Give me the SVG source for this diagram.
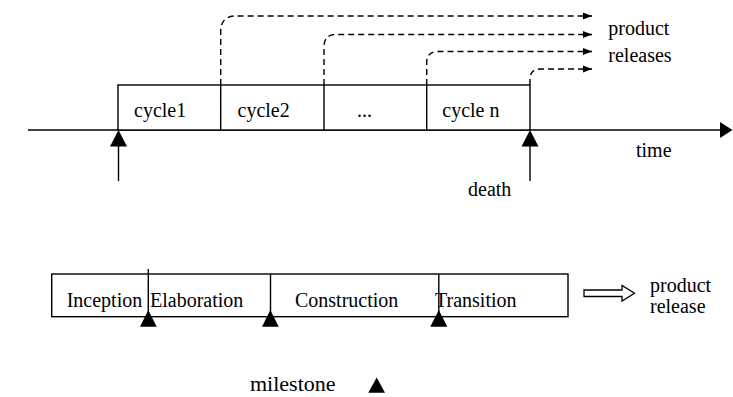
<svg xmlns="http://www.w3.org/2000/svg" width="733" height="397" viewBox="0 0 733 397">
<defs>
<style>
text{font-family:"Liberation Serif","Times New Roman","DejaVu Serif",serif;font-size:20px;fill:#000}
.ln{stroke:#000;stroke-width:1.4;fill:none}
.box{stroke:#000;stroke-width:1.4;fill:#fff}
.dash{stroke:#000;stroke-width:1.4;fill:none;stroke-dasharray:6 4}
.tri{fill:#000}
</style>
<marker id="ah" markerWidth="10" markerHeight="8" refX="9" refY="4" orient="auto" markerUnits="userSpaceOnUse">
<path d="M0,0.5 L9,4 L0,7.5 Z" fill="#000"/>
</marker>
</defs>
<rect width="733" height="397" fill="#fff"/>

<g id="timeline">
<line class="ln" x1="28" y1="130" x2="721" y2="130"/>
<path class="tri" d="M720,122 L732.5,130 L720,138 Z"/>
<text x="636" y="157">time</text>
</g>

<g id="cycles">
<rect class="box" x="118" y="85" width="412" height="45"/>
<line class="ln" x1="220.7" y1="85" x2="220.7" y2="130"/>
<line class="ln" x1="324" y1="85" x2="324" y2="130"/>
<line class="ln" x1="426.7" y1="85" x2="426.7" y2="130"/>
<text x="134" y="117">cycle1</text>
<text x="237.5" y="117">cycle2</text>
<text x="357" y="117">...</text>
<text x="442.3" y="117">cycle n</text>
</g>

<g id="birth">
<line class="ln" x1="118.5" y1="181" x2="118.5" y2="145"/>
<path class="tri" d="M110,146.5 L127,146.5 L118.5,130 Z"/>
</g>

<g id="death">
<line class="ln" x1="530" y1="181" x2="530" y2="145"/>
<path class="tri" d="M521.5,146.5 L538.5,146.5 L530,130 Z"/>
<text x="468" y="196">death</text>
</g>

<g id="releases-label">
<text x="608.3" y="35">product</text>
<text x="608.3" y="61.5">releases</text>
</g>

<g id="connectors">
<path class="dash" d="M220.7,85 V31 Q221,17 234,16 H592" marker-end="url(#ah)"/>
<path class="dash" d="M324,85 V47 Q324,35 335,34.5 H592" marker-end="url(#ah)"/>
<path class="dash" d="M426.7,85 V62 Q427,52 437,51.5 H592" marker-end="url(#ah)"/>
<path class="dash" d="M530,85 V79 Q530,69.5 540,69 H592" marker-end="url(#ah)"/>
</g>

<g id="phases">
<rect class="box" x="51.7" y="274" width="516.3" height="42.7"/>
<text x="66.7" y="306.7">Inception</text>
<text x="150" y="306.7">Elaboration</text>
<text x="295" y="306.7">Construction</text>
<text x="435" y="306.7">Transition</text>
</g>

<g id="milestone1">
<line class="ln" x1="148.3" y1="269" x2="148.3" y2="314"/>
<path class="tri" d="M140,326.7 L156.7,326.7 L148.3,310 Z"/>
</g>
<g id="milestone2">
<line class="ln" x1="270.5" y1="274" x2="270.5" y2="314"/>
<path class="tri" d="M262,326.7 L278.7,326.7 L270.3,310 Z"/>
</g>
<g id="milestone3">
<line class="ln" x1="438.8" y1="274" x2="438.8" y2="314"/>
<path class="tri" d="M430.3,326.7 L447.3,326.7 L438.8,310 Z"/>
</g>

<g id="release-arrow">
<path d="M584,290 L622,290 L622,285.5 L634.5,293.3 L622,301 L622,296.5 L584,296.5 Z" fill="#fff" stroke="#000" stroke-width="1.3"/>
<text x="650" y="291.5">product</text>
<text x="650" y="312.5">release</text>
</g>

<g id="legend">
<text x="250" y="390.5" style="font-size:22px">milestone</text>
<path class="tri" d="M368.3,392.7 L385,392.7 L376.7,377.5 Z"/>
</g>
</svg>
